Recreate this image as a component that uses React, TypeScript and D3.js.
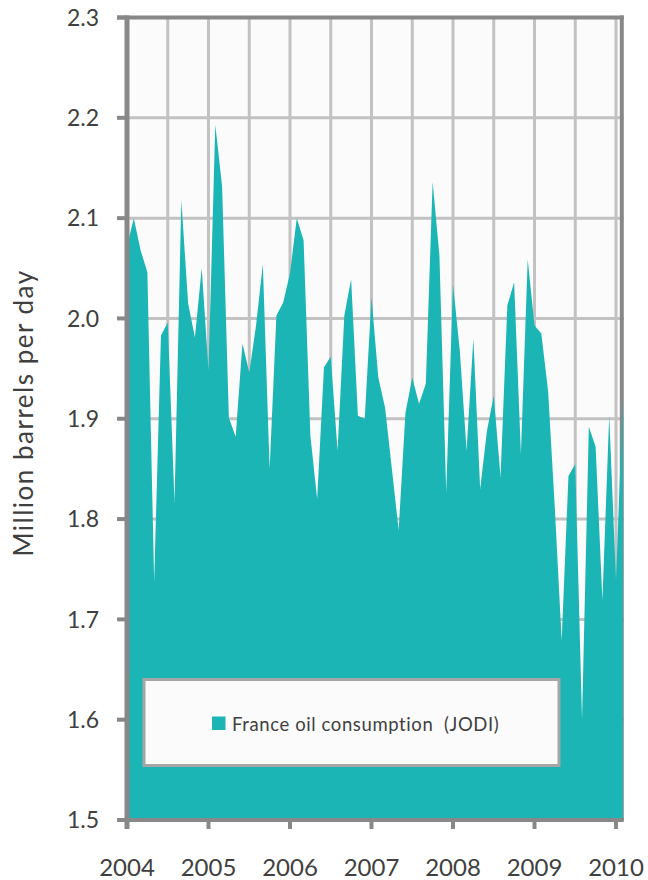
import React from "react";
import * as d3 from "d3";

// monthly series, Jan 2004 .. Feb 2010 (million barrels per day)
const startYear = 2004;
const consumption = [
  2.072, 2.1, 2.068, 2.046, 1.737, 1.983, 1.996, 1.817, 2.118, 2.015, 1.981, 2.05,
  1.948, 2.193, 2.132, 1.901, 1.882, 1.975, 1.946, 1.993, 2.054, 1.85, 2.003, 2.016,
  2.045, 2.1, 2.078, 1.883, 1.82, 1.951, 1.962, 1.868, 2.003, 2.039, 1.903, 1.9,
  2.021, 1.941, 1.911, 1.85, 1.789, 1.906, 1.941, 1.915, 1.935, 2.136, 2.063, 1.827,
  2.034, 1.968, 1.868, 1.98, 1.83, 1.888, 1.923, 1.842, 2.013, 2.036, 1.865, 2.059,
  1.993, 1.985, 1.928, 1.81, 1.679, 1.843, 1.855, 1.6, 1.892, 1.872, 1.719, 1.903,
  1.739, 1.92,
];
const yearTicks = [2004, 2005, 2006, 2007, 2008, 2009, 2010];
const valueTicks = [1.5, 1.6, 1.7, 1.8, 1.9, 2.0, 2.1, 2.2, 2.3];
const halfYearGrid = d3.range(2004.5, 2010.01, 0.5);
const seriesName = "France oil consumption  (JODI)";
const yTitle = "Million barrels per day";

const W = 648;
const H = 880;
const left = 127;
const top = 17.5;
const bottom = 820;

const teal = "#1bb5b5";
const axisGray = "#888888";
const gridGray = "#c2c2c2";
const textCol = "#404040";
const font = "Lato, 'Open Sans', sans-serif";

export default function App() {
  const data = consumption.map((v, i) => ({ t: startYear + i / 12, v }));
  const lastT = data[data.length - 1].t;

  const x = d3.scaleLinear().domain([2004, 2010]).range([left, 616]);
  const y = d3.scaleLinear().domain([1.5, 2.3]).range([bottom, top]);
  const right = x(lastT) + 1;

  const area = d3
    .area<{ t: number; v: number }>()
    .x((d) => x(d.t))
    .y0(y(1.5))
    .y1((d) => y(d.v));

  return (
    <div style={{ position: "absolute", left: 0, top: 0 }}>
      <svg width={W} height={H} style={{ display: "block" }}>
        <rect x={left} y={top} width={right - left} height={bottom - top} fill="#fbfbfb" />
        {/* grid */}
        {valueTicks.slice(1, -1).map((t) => (
          <line key={"h" + t} x1={left} x2={right} y1={y(t)} y2={y(t)} stroke={gridGray} strokeWidth={3} />
        ))}
        {halfYearGrid.map((t) => (
          <line key={"v" + t} x1={x(t)} x2={x(t)} y1={top} y2={bottom} stroke={gridGray} strokeWidth={3} />
        ))}
        {/* frame top / right */}
        <line x1={left - 10} x2={right} y1={top} y2={top} stroke={axisGray} strokeWidth={4} />
        <line x1={right - 2} x2={right - 2} y1={top - 2} y2={bottom} stroke={axisGray} strokeWidth={4} />

        <path d={area(data) || ""} fill={teal} />

        {/* y axis */}
        <line x1={left} x2={left} y1={top - 2} y2={bottom + 9} stroke={axisGray} strokeWidth={5} />
        {valueTicks.map((t) => (
          <g key={"yt" + t}>
            <line x1={left - 10} x2={left} y1={y(t)} y2={y(t)} stroke={axisGray} strokeWidth={4} />
            <text
              x={99}
              y={y(t)}
              dy="0.36em"
              textAnchor="end"
              fontFamily={font}
              fontSize={23}
              fill={textCol}
            >
              {t.toFixed(1)}
            </text>
          </g>
        ))}

        {/* x axis */}
        <line x1={left - 10} x2={right} y1={bottom} y2={bottom} stroke={axisGray} strokeWidth={4} />
        {yearTicks.map((t) => (
          <g key={"xt" + t}>
            <line x1={x(t)} x2={x(t)} y1={bottom} y2={bottom + 9} stroke={axisGray} strokeWidth={4} />
            <text x={x(t)} y={876} textAnchor="middle" fontFamily={font} fontSize={24} fill={textCol}>
              {t}
            </text>
          </g>
        ))}

        <text
          transform={`translate(33, 413) rotate(-90)`}
          textAnchor="middle"
          fontFamily={font}
          fontSize={26}
          letterSpacing={1.5}
          fill={textCol}
        >
          {yTitle}
        </text>

        {/* legend */}
        <rect x={144} y={679.5} width={415} height={86} fill="#fbfbfb" stroke="#a6a6a6" strokeWidth={3} />
        <rect x={212} y={716.5} width={13.5} height={13.5} fill={teal} />
        <text
          x={232}
          y={730.5}
          fontFamily={font}
          fontSize={18.5}
          letterSpacing={0.6}
          fill={textCol}
          style={{ whiteSpace: "pre" }}
        >
          {seriesName}
        </text>
      </svg>
    </div>
  );
}
